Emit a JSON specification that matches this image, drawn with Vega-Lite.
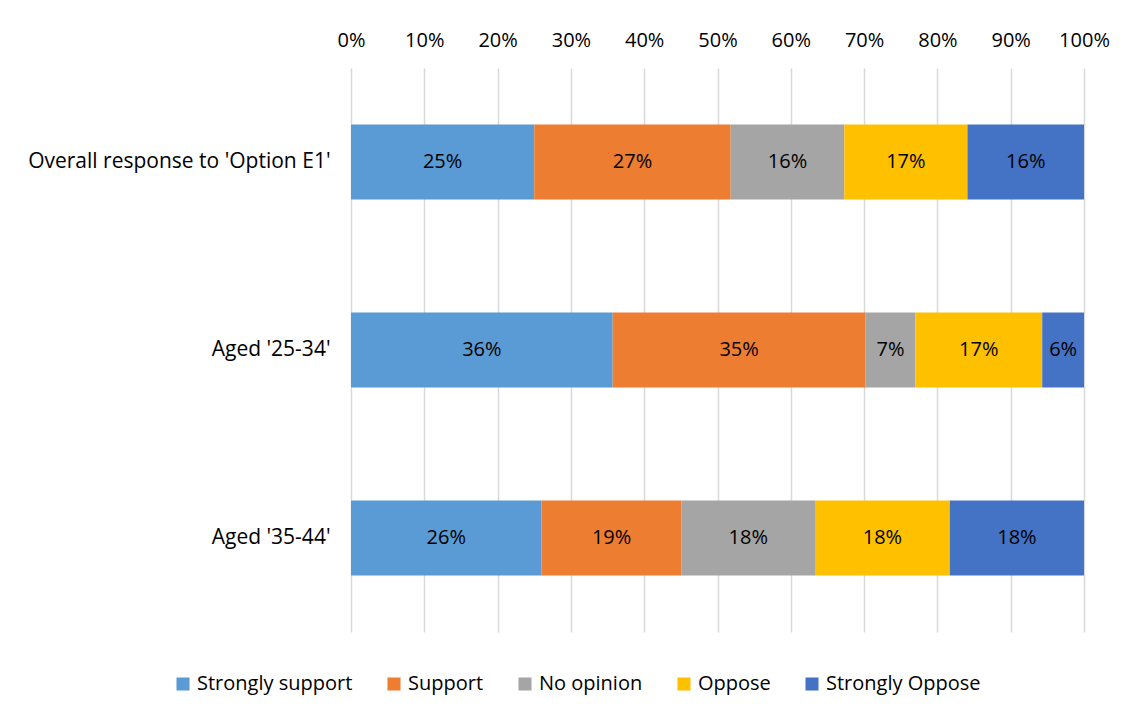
{
  "$schema": "https://vega.github.io/schema/vega-lite/v6.json",
  "width": 733,
  "height": 564,
  "autosize": {"type": "none"},
  "padding": {"left": 351, "top": 68, "right": 50, "bottom": 88},
  "background": "white",
  "config": {
    "view": {"stroke": null},
    "font": "Open Sans",
    "axis": {"labelFont": "Open Sans", "labelColor": "#000000"}
  },
  "data": {
    "values": [
      {"group": "Overall response to 'Option E1'", "response": "Strongly support", "k": 1, "value": 25.0, "label": "25%"},
      {"group": "Overall response to 'Option E1'", "response": "Support", "k": 2, "value": 26.8, "label": "27%"},
      {"group": "Overall response to 'Option E1'", "response": "No opinion", "k": 3, "value": 15.5, "label": "16%"},
      {"group": "Overall response to 'Option E1'", "response": "Oppose", "k": 4, "value": 16.8, "label": "17%"},
      {"group": "Overall response to 'Option E1'", "response": "Strongly Oppose", "k": 5, "value": 15.9, "label": "16%"},
      {"group": "Aged '25-34'", "response": "Strongly support", "k": 1, "value": 35.7, "label": "36%"},
      {"group": "Aged '25-34'", "response": "Support", "k": 2, "value": 34.5, "label": "35%"},
      {"group": "Aged '25-34'", "response": "No opinion", "k": 3, "value": 6.8, "label": "7%"},
      {"group": "Aged '25-34'", "response": "Oppose", "k": 4, "value": 17.3, "label": "17%"},
      {"group": "Aged '25-34'", "response": "Strongly Oppose", "k": 5, "value": 5.7, "label": "6%"},
      {"group": "Aged '35-44'", "response": "Strongly support", "k": 1, "value": 26.0, "label": "26%"},
      {"group": "Aged '35-44'", "response": "Support", "k": 2, "value": 19.1, "label": "19%"},
      {"group": "Aged '35-44'", "response": "No opinion", "k": 3, "value": 18.2, "label": "18%"},
      {"group": "Aged '35-44'", "response": "Oppose", "k": 4, "value": 18.4, "label": "18%"},
      {"group": "Aged '35-44'", "response": "Strongly Oppose", "k": 5, "value": 18.3, "label": "18%"}
    ]
  },
  "encoding": {
    "y": {
      "field": "group",
      "type": "nominal",
      "sort": null,
      "scale": {"paddingInner": 0.6, "paddingOuter": 0.3},
      "axis": {
        "title": null,
        "domain": false,
        "ticks": false,
        "labelFontSize": 21,
        "labelPadding": 21,
        "labelLimit": 400
      }
    },
    "x": {
      "field": "value",
      "type": "quantitative",
      "stack": "zero",
      "scale": {"domain": [0, 100], "nice": false},
      "axis": {
        "orient": "top",
        "title": null,
        "values": [0, 10, 20, 30, 40, 50, 60, 70, 80, 90, 100],
        "labelExpr": "datum.value + '%'",
        "labelFontSize": 20,
        "labelPadding": 18,
        "labelFlush": false,
        "labelOverlap": false,
        "domain": false,
        "ticks": false,
        "grid": true,
        "gridColor": "#d9d9d9",
        "gridWidth": 1.5
      }
    },
    "order": {"field": "k", "type": "quantitative"}
  },
  "layer": [
    {
      "mark": {"type": "bar"},
      "encoding": {
        "color": {
          "field": "response",
          "type": "nominal",
          "scale": {
            "domain": ["Strongly support", "Support", "No opinion", "Oppose", "Strongly Oppose"],
            "range": ["#5B9BD5", "#ED7D31", "#A5A5A5", "#FFC000", "#4472C4"]
          },
          "legend": {
            "title": null,
            "orient": "none",
            "direction": "horizontal",
            "legendX": -178,
            "legendY": 606,
            "symbolType": "square",
            "symbolSize": 170,
            "symbolStrokeWidth": 0,
            "symbolOpacity": 1,
            "labelFontSize": 20,
            "labelFont": "Open Sans",
            "labelColor": "#000000",
            "columnPadding": 31,
            "labelOffset": 4,
            "labelLimit": 300
          }
        }
      }
    },
    {
      "mark": {"type": "text", "fontSize": 20, "color": "#000000", "font": "Open Sans"},
      "encoding": {
        "x": {"field": "value", "type": "quantitative", "stack": "zero", "bandPosition": 0.5},
        "text": {"field": "label", "type": "nominal"}
      }
    }
  ]
}
